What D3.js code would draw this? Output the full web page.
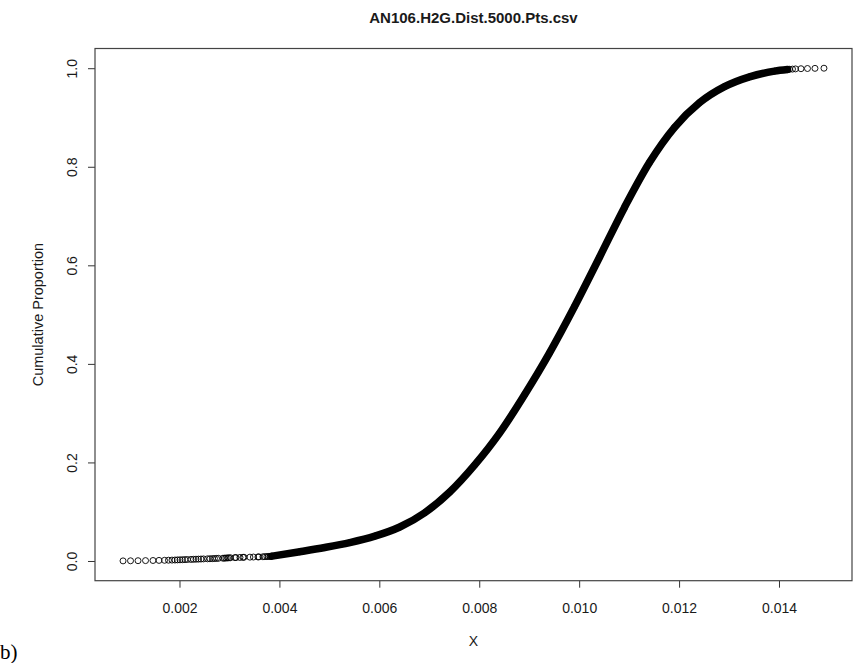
<!DOCTYPE html>
<html>
<head>
<meta charset="utf-8">
<script src="https://cdn.jsdelivr.net/npm/d3@7/dist/d3.min.js"></script>
<style>
  html, body { margin: 0; padding: 0; background: #fff; }
  svg { display: block; }
  text { font-family: Arial, "Liberation Sans", sans-serif; fill: #1a1a1a; }
</style>
</head>
<body>
<svg id="chart" width="854" height="663"></svg>
<script>
// Empirical cumulative distribution of AN106.H2G.Dist (5000 points)

// sparse lower tail: individual observations
const lowerTailX = [0.00087, 0.00102, 0.00117, 0.00132, 0.00147, 0.00159, 0.00170, 0.00178,
  0.00185, 0.00191, 0.00196, 0.00201, 0.00206, 0.00211, 0.00216, 0.00223, 0.00228, 0.00233,
  0.00238, 0.00243, 0.00248, 0.00256, 0.00261, 0.00266, 0.00270, 0.00274, 0.00278, 0.00287,
  0.00290, 0.00293, 0.00296, 0.00299, 0.00302, 0.00311, 0.00313, 0.00321, 0.00327, 0.00329,
  0.00341, 0.00348, 0.00357, 0.00359, 0.00367, 0.00371, 0.00375, 0.00378, 0.00381, 0.00383];
const lowerTailP = [0.0002, 0.0004, 0.0006, 0.0008, 0.0010, 0.0012, 0.0014, 0.0016,
  0.0018, 0.0020, 0.0022, 0.0024, 0.0026, 0.0028, 0.0030, 0.0032, 0.0034, 0.0036,
  0.0038, 0.0040, 0.0042, 0.0044, 0.0046, 0.0048, 0.0050, 0.0052, 0.0054, 0.0056,
  0.0058, 0.0060, 0.0062, 0.0064, 0.0066, 0.0068, 0.0070, 0.0072, 0.0074, 0.0076,
  0.0078, 0.0080, 0.0082, 0.0084, 0.0086, 0.0088, 0.0090, 0.0092, 0.0094, 0.0096];

// dense body of the distribution (overlapping observations)
const bodyX = [0.00385, 0.00441, 0.00491, 0.00541, 0.00591, 0.00641, 0.00691, 0.00741,
  0.00791, 0.00841, 0.00891, 0.00941, 0.00991, 0.01041, 0.01091, 0.01141, 0.01191,
  0.01241, 0.01291, 0.01341, 0.01391, 0.01417];
const bodyP = [0.0098, 0.0188, 0.0274, 0.0374, 0.0504, 0.069, 0.098, 0.140,
  0.195, 0.260, 0.338, 0.423, 0.517, 0.617, 0.718, 0.809, 0.880,
  0.930, 0.9625, 0.9825, 0.994, 0.9972];

// sparse upper tail
const upperTailX = [0.01421, 0.01427, 0.01433, 0.01444, 0.01457, 0.01472, 0.01490];
const upperTailP = [0.9978, 0.9982, 0.9986, 0.9990, 0.9994, 0.9997, 1.0000];

const xTicks = [0.002, 0.004, 0.006, 0.008, 0.010, 0.012, 0.014];
const yTicks = [0.0, 0.2, 0.4, 0.6, 0.8, 1.0];

const chartTitle = "AN106.H2G.Dist.5000.Pts.csv";
const xLabel = "X";
const yLabel = "Cumulative Proportion";
const panelTag = "b)";

const plot = { left: 95, right: 852, top: 48.5, bottom: 580.7 };

const toPoints = (xs, ps) => xs.map((x, i) => ({ x, p: ps[i] }));
const lower = toPoints(lowerTailX, lowerTailP);
const body = toPoints(bodyX, bodyP);
const upper = toPoints(upperTailX, upperTailP);
const all = lower.concat(body, upper);

// R-style 4% padding around the data range
const xExt = d3.extent(all, d => d.x);
const xPad = (xExt[1] - xExt[0]) * 0.04;
const x = d3.scaleLinear().domain([xExt[0] - xPad, xExt[1] + xPad]).range([plot.left, plot.right]);
const y = d3.scaleLinear().domain([-0.04, 1.04]).range([plot.bottom, plot.top]);

const svg = d3.select("#chart");

// title
svg.append("text")
  .attr("x", (plot.left + plot.right) / 2)
  .attr("y", 23)
  .attr("text-anchor", "middle")
  .style("font-weight", "bold")
  .style("font-size", "15px")
  .text(chartTitle);

// x axis
const xAxis = svg.append("g")
  .attr("transform", `translate(0,${plot.bottom})`)
  .call(d3.axisBottom(x).tickValues(xTicks).tickFormat(d3.format(".3f"))
    .tickSize(7).tickPadding(15).tickSizeOuter(0));
xAxis.select(".domain").remove();
xAxis.selectAll(".tick line").attr("stroke", "#333");
xAxis.selectAll(".tick text")
  .style("font-size", "14px")
  .style("font-family", "Arial, 'Liberation Sans', sans-serif")
  .attr("fill", "#1a1a1a");

// y axis with rotated labels
const yAxis = svg.append("g")
  .attr("transform", `translate(${plot.left},0)`)
  .call(d3.axisLeft(y).tickValues(yTicks).tickFormat(d3.format(".1f"))
    .tickSize(7).tickSizeOuter(0));
yAxis.select(".domain").remove();
yAxis.selectAll(".tick line").attr("stroke", "#333");
yAxis.selectAll(".tick text")
  .attr("x", 0).attr("dy", "0.35em")
  .attr("text-anchor", "middle")
  .attr("transform", "translate(-23,0) rotate(-90)")
  .style("font-size", "14px")
  .style("font-family", "Arial, 'Liberation Sans', sans-serif")
  .attr("fill", "#1a1a1a");

// plot frame
svg.append("rect")
  .attr("x", plot.left).attr("y", plot.top)
  .attr("width", plot.right - plot.left).attr("height", plot.bottom - plot.top)
  .attr("fill", "none").attr("stroke", "#444").attr("stroke-width", 1.2);

// axis titles
svg.append("text")
  .attr("x", (plot.left + plot.right) / 2).attr("y", 646)
  .attr("text-anchor", "middle")
  .style("font-size", "14px")
  .text(xLabel);

svg.append("text")
  .attr("transform", `translate(43,${(plot.top + plot.bottom) / 2}) rotate(-90)`)
  .attr("text-anchor", "middle")
  .style("font-size", "14.5px")
  .text(yLabel);

// panel tag
svg.append("text")
  .attr("x", 0).attr("y", 659)
  .style("font-family", "'Liberation Serif', 'Times New Roman', serif")
  .style("font-size", "21px")
  .style("fill", "#000")
  .text(panelTag);

// dense band of overlapping points
const band = d3.line().x(d => x(d.x)).y(d => y(d.p)).curve(d3.curveMonotoneX);
svg.append("path")
  .datum(body)
  .attr("d", band)
  .attr("fill", "none")
  .attr("stroke", "#000")
  .attr("stroke-width", 7.5)
  .attr("stroke-linecap", "round");

// individual observations as open circles
svg.append("g")
  .selectAll("circle")
  .data(all)
  .join("circle")
  .attr("cx", d => x(d.x))
  .attr("cy", d => y(d.p))
  .attr("r", 3)
  .attr("fill", "none")
  .attr("stroke", "#000")
  .attr("stroke-width", 0.9);
</script>
</body>
</html>
